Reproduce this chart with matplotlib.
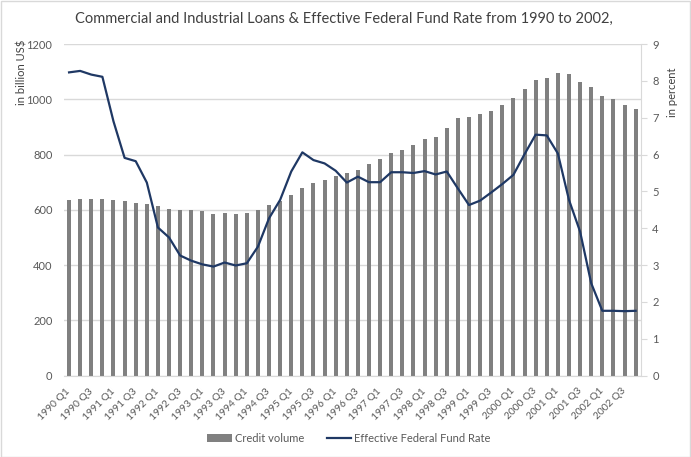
import matplotlib
matplotlib.use("Agg")
import matplotlib.pyplot as plt
import numpy as np

plt.rcParams['font.family'] = ['Lato', 'DejaVu Sans']

years = list(range(1990, 2003))
quarters = [f"{y} Q{q}" for y in years for q in range(1, 5)]

credit_volume = [635, 641, 639, 638, 636, 632, 625, 622, 614, 603,
                 599, 598, 596, 586, 588, 585, 588, 599, 616, 633,
                 655, 678, 698, 707, 722, 733, 744, 766, 783, 804,
                 816, 835, 856, 865, 897, 931, 937, 947, 959, 979,
                 1003, 1036, 1070, 1077, 1094, 1090, 1064, 1046, 1012, 1001,
                 978, 964]

fed_rate = [8.23, 8.27, 8.17, 8.11, 6.90, 5.91, 5.82, 5.24, 4.02, 3.75,
            3.26, 3.12, 3.02, 2.96, 3.07, 2.99, 3.05, 3.50, 4.27, 4.77,
            5.54, 6.06, 5.85, 5.76, 5.56, 5.24, 5.40, 5.25, 5.25, 5.52,
            5.52, 5.50, 5.55, 5.46, 5.54, 5.08, 4.63, 4.75, 4.97, 5.20,
            5.45, 6.01, 6.54, 6.52, 6.03, 4.77, 3.91, 2.51, 1.76, 1.76,
            1.75, 1.76]

bar_color = '#808080'
line_color = '#1F3864'
text_color = '#595959'
grid_color = '#D9D9D9'

fig = plt.figure(figsize=(6.91, 4.57), dpi=100)
ax = fig.add_axes([0.0919, 0.178, 0.836, 0.7257])
x = np.arange(len(quarters))

bars = ax.bar(x, credit_volume, width=0.36, color=bar_color, label='Credit volume', zorder=2)
ax.set_xlim(-0.5, len(quarters) - 0.5)
ax.set_ylim(0, 1200)
ax.set_yticks(range(0, 1201, 200))
ax.yaxis.grid(True, color=grid_color, linewidth=1, zorder=0)
ax.set_axisbelow(True)
for s in ['top', 'right', 'left']:
    ax.spines[s].set_visible(False)
ax.spines['bottom'].set_color(grid_color)
ax.tick_params(axis='y', length=0, labelsize=8, colors=text_color, pad=8)
ax.set_xticks(x[::2])
ax.set_xticklabels(quarters[::2], rotation=45, ha='right', va='center',
                   rotation_mode='anchor', fontsize=7.4, color=text_color)
ax.tick_params(axis='x', length=0, pad=10)
ax.set_ylabel('in billion US$', fontsize=8, color='#404040')
ax.yaxis.set_label_coords(-0.063, 0.916)

ax2 = ax.twinx()
line, = ax2.plot(x, fed_rate, color=line_color, linewidth=1.6, label='Effective Federal Fund Rate', zorder=3)
ax2.set_ylim(0, 9)
ax2.set_yticks(range(0, 10))
for s in ['top', 'left', 'bottom']:
    ax2.spines[s].set_visible(False)
ax2.spines['right'].set_color(grid_color)
ax2.tick_params(axis='y', length=4, color=grid_color, labelsize=8, colors=text_color, pad=4)
ax2.set_ylabel('in percent', fontsize=8, color='#404040')
ax2.yaxis.set_label_coords(1.0445, 0.855)

fig.suptitle('Commercial and Industrial Loans & Effective Federal Fund Rate from 1990 to 2002,',
             x=0.498, y=0.975, fontsize=10.5, color='#404040')

fig.legend([bars, line], ['Credit volume', 'Effective Federal Fund Rate'],
           loc='center', bbox_to_anchor=(0.505, 0.04), ncol=2, frameon=False,
           fontsize=8, handlelength=2.2, handleheight=0.7, columnspacing=2.0,
           labelcolor=text_color, handletextpad=0.3)

fig.patches.append(plt.Rectangle((0.001, 0.001), 0.997, 0.997, transform=fig.transFigure,
                                 fill=False, edgecolor='#D9D9D9', linewidth=1))

fig.savefig('out.png', dpi=100)
